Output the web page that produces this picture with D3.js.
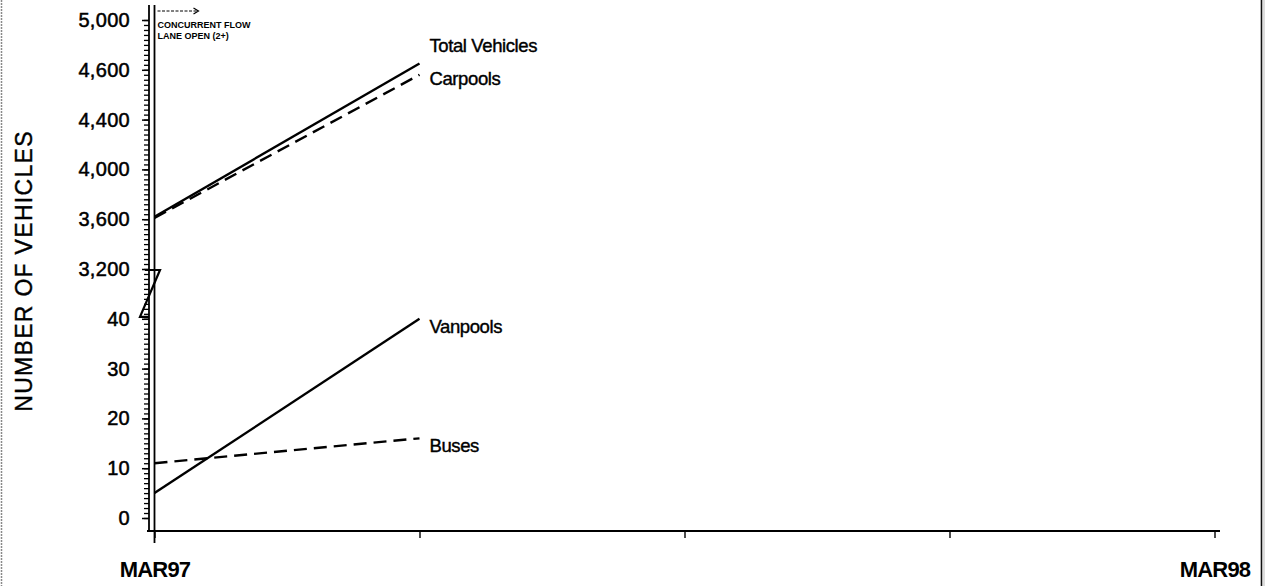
<!DOCTYPE html>
<html>
<head>
<meta charset="utf-8">
<script src="https://cdn.jsdelivr.net/npm/d3@7"></script>
<style>
  html, body { margin: 0; padding: 0; background: #fff; }
  svg { display: block; }
  text { font-family: "Liberation Sans", Arial, Helvetica, sans-serif; fill: #000; }
</style>
</head>
<body>
<svg id="chart" width="1265" height="586"></svg>
<script>
// ---------------- data ----------------
const periods = ["MAR97", "JUN97", "SEP97", "DEC97", "MAR98"];
const periodLabels = ["MAR97", "", "", "", "MAR98"];
const lowerTicks = [0, 10, 20, 30, 40];
const upperTicks = [3200, 3600, 4000, 4400, 4600, 5000];
const seriesNames = ["Total Vehicles", "Carpools", "Vanpools", "Buses"];
const totalVehicles = [3620, 4650];
const carpools = [3610, 4580];
const vanpools = [5, 40];
const buses = [11, 16];
const annotationLines = ["CONCURRENT FLOW", "LANE OPEN (2+)"];
const yTitle = "NUMBER OF VEHICLES";

// ---------------- layout ----------------
const W = 1265, H = 586;
const axisX = 149, baseY = 531;
const svg = d3.select("#chart");

const x = d3.scalePoint().domain(periods).range([154.5, 1214.5]);
// evenly spaced tick slots along the broken axis (0..40 below, 3,200..5,000 above)
const slot = d3.scaleLinear().domain([0, 10]).range([518, 20]);
const yLow = d3.scaleLinear().domain([lowerTicks[0], lowerTicks[lowerTicks.length - 1]])
  .range([slot(0), slot(lowerTicks.length - 1)]);
const yHigh = d3.scaleLinear().domain(upperTicks)
  .range(upperTicks.map((d, i) => slot(lowerTicks.length + i)));

// ---------------- frame ----------------
svg.append("line").attr("x1", 1.5).attr("x2", 1.5).attr("y1", 0).attr("y2", H)
  .attr("stroke", "#8a8a8a").attr("stroke-width", 1.5).attr("stroke-dasharray", "2,1");
svg.append("line").attr("x1", 1261.5).attr("x2", 1261.5).attr("y1", 0).attr("y2", H)
  .attr("stroke", "#111").attr("stroke-width", 1.6);
svg.append("line").attr("x1", 1264).attr("x2", 1264).attr("y1", 0).attr("y2", H)
  .attr("stroke", "#bbb").attr("stroke-width", 1);

// ---------------- y axis ----------------
const gy = svg.append("g").attr("transform", `translate(${axisX},0)`);
// minor ticks (uniform along the whole axis)
gy.append("g").call(d3.axisLeft(slot).tickValues(d3.range(0, 101).map(i => i / 10))
    .tickSize(5).tickFormat(""))
  .call(g => g.select(".domain").remove())
  .call(g => g.selectAll("line").attr("stroke", "#000").attr("stroke-width", 1.3));
const labelStyle = g => g.selectAll("text")
  .attr("font-size", 20).attr("stroke", "#000").attr("stroke-width", 0.5)
  .attr("letter-spacing", 0.3);
gy.append("g").call(d3.axisLeft(yLow).tickValues(lowerTicks).tickSize(7).tickPadding(12))
  .call(g => g.select(".domain").remove())
  .call(g => g.selectAll("line").attr("stroke", "#000").attr("stroke-width", 1.5))
  .call(labelStyle);
gy.append("g").call(d3.axisLeft(yHigh).tickValues(upperTicks).tickSize(7).tickPadding(12)
    .tickFormat(d3.format(",")))
  .call(g => g.select(".domain").remove())
  .call(g => g.selectAll("line").attr("stroke", "#000").attr("stroke-width", 1.5))
  .call(labelStyle);
svg.append("line").attr("x1", axisX).attr("x2", axisX).attr("y1", 5).attr("y2", baseY)
  .attr("stroke", "#000").attr("stroke-width", 1.8);

// axis break symbol
const bTop = slot(lowerTicks.length - 0.02), bBot = slot(lowerTicks.length - 1 + 0.04);
svg.append("path")
  .attr("d", `M${axisX - 4},${bTop} L${axisX + 11},${bTop} L${axisX - 9},${bBot} L${axisX},${bBot}`)
  .attr("fill", "none").attr("stroke", "#000").attr("stroke-width", 2.2)
  .attr("stroke-linejoin", "miter");

// ---------------- x axis ----------------
const gx = svg.append("g").attr("transform", `translate(0,${baseY})`);
gx.call(d3.axisBottom(x).tickSize(7).tickPadding(23).tickFormat((d, i) => periodLabels[i]))
  .call(g => g.select(".domain").remove())
  .call(g => g.selectAll("line").attr("stroke", "#000").attr("stroke-width", 1.4))
  .call(g => g.selectAll("text").attr("font-size", 22).attr("font-weight", "bold")
    .attr("letter-spacing", -0.8));
svg.append("line").attr("x1", axisX - 2).attr("x2", 1220).attr("y1", baseY).attr("y2", baseY)
  .attr("stroke", "#000").attr("stroke-width", 1.8);

// marker line at MAR97 (concurrent flow lane opened)
svg.append("line").attr("x1", x(periods[0])).attr("x2", x(periods[0]))
  .attr("y1", 5).attr("y2", baseY + 12)
  .attr("stroke", "#000").attr("stroke-width", 1.8);
const ax = x(periods[0]) + 3;
svg.append("line").attr("x1", ax).attr("x2", ax + 40).attr("y1", 11).attr("y2", 11)
  .attr("stroke", "#000").attr("stroke-width", 1).attr("stroke-dasharray", "3,1.5");
svg.append("path").attr("d", `M${ax + 36},8 L${ax + 41},11 L${ax + 36},14`)
  .attr("fill", "none").attr("stroke", "#000").attr("stroke-width", 1.2);
svg.append("g").selectAll("text").data(annotationLines).join("text")
  .attr("x", ax).attr("y", (d, i) => 28 + i * 11)
  .attr("font-size", 9).attr("font-weight", "bold").attr("letter-spacing", 0)
  .text(d => d);

// y title
svg.append("text").attr("transform", "translate(32,271) rotate(-90)")
  .attr("text-anchor", "middle").attr("font-size", 23).attr("letter-spacing", 1.3)
  .attr("stroke", "#000").attr("stroke-width", 0.4)
  .text(yTitle);

// ---------------- series ----------------
const series = [
  { name: seriesNames[0], values: totalVehicles, y: yHigh, dash: null, dy: -12 },
  { name: seriesNames[1], values: carpools, y: yHigh, dash: "13,7", dy: 10 },
  { name: seriesNames[2], values: vanpools, y: yLow, dash: null, dy: 14 },
  { name: seriesNames[3], values: buses, y: yLow, dash: "13,7", dy: 14 }
];
series.forEach(s => {
  const line = d3.line().x((d, i) => x(periods[i])).y(d => s.y(d));
  svg.append("path").datum(s.values).attr("d", line)
    .attr("fill", "none").attr("stroke", "#000").attr("stroke-width", 2.4)
    .attr("stroke-dasharray", s.dash);
  const last = s.values.length - 1;
  svg.append("text")
    .attr("x", x(periods[last]) + 10)
    .attr("y", s.y(s.values[last]) + s.dy)
    .attr("font-size", 18.5).attr("letter-spacing", -0.4)
    .attr("stroke", "#000").attr("stroke-width", 0.4)
    .text(s.name);
});
</script>
</body>
</html>
